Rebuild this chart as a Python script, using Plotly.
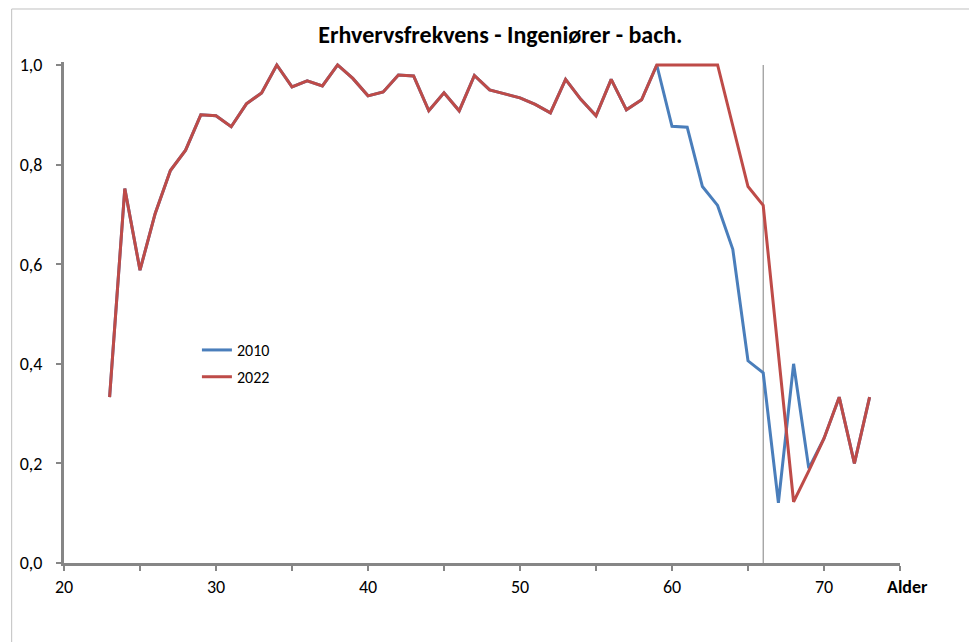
import plotly.graph_objects as go

ages = list(range(23, 74))

freq_2010 = [0.333, 0.752, 0.588, 0.702, 0.788, 0.829, 0.900, 0.898, 0.876, 0.922,
             0.944, 1.000, 0.956, 0.968, 0.958, 1.000, 0.973, 0.938, 0.946, 0.980,
             0.978, 0.908, 0.944, 0.908, 0.979, 0.950, 0.942, 0.934, 0.921, 0.904,
             0.971, 0.931, 0.898, 0.971, 0.910, 0.930, 1.000,
             0.877, 0.875, 0.756, 0.718, 0.630, 0.406, 0.382, 0.121, 0.400, 0.190,
             0.250, 0.333, 0.200, 0.333]

freq_2022 = [0.333, 0.752, 0.588, 0.702, 0.788, 0.829, 0.900, 0.898, 0.876, 0.922,
             0.944, 1.000, 0.956, 0.968, 0.958, 1.000, 0.973, 0.938, 0.946, 0.980,
             0.978, 0.908, 0.944, 0.908, 0.979, 0.950, 0.942, 0.934, 0.921, 0.904,
             0.971, 0.931, 0.898, 0.971, 0.910, 0.930, 1.000,
             1.000, 1.000, 1.000, 1.000, 0.878, 0.756, 0.718, 0.420, 0.123, 0.185,
             0.250, 0.333, 0.200, 0.333]

series_names = ["2010", "2022"]
series_colors = ["#4A7EBB", "#BE4B48"]

x_tickvals = list(range(20, 76, 5))
x_ticktext = [str(v) if v % 10 == 0 else "" for v in x_tickvals]
y_tickvals = [0, 0.2, 0.4, 0.6, 0.8, 1.0]
y_ticktext = ["0,0", "0,2", "0,4", "0,6", "0,8", "1,0"]
ref_age = 66

FONT = "Carlito, Calibri, Lato, sans-serif"
AXIS_COLOR = "#868686"

fig = go.Figure()
for name, vals, col in zip(series_names, [freq_2010, freq_2022], series_colors):
    fig.add_trace(go.Scatter(x=ages, y=vals, mode="lines", name=name,
                             legendgroup=name,
                             line=dict(color=col, width=3)))

fig.add_shape(type="line", xref="x", yref="y", x0=ref_age, x1=ref_age, y0=0, y1=1.0,
              line=dict(color="#808080", width=1), layer="below")

# chart-area border
fig.add_shape(type="rect", xref="paper", yref="paper",
              x0=-0.0626, x1=1.3, y0=-0.4, y1=1.1058,
              line=dict(color="#C0C0C0", width=1), fillcolor="rgba(0,0,0,0)")

fig.add_annotation(text="<b>Alder</b>", xref="paper", yref="paper",
                   x=0.982, y=-0.048, xanchor="left", yanchor="middle",
                   showarrow=False, font=dict(family=FONT, size=18, color="black"))

fig.update_layout(
    width=969, height=634,
    margin=dict(l=53, r=77, t=54, b=79),
    paper_bgcolor="white", plot_bgcolor="white",
    font=dict(family=FONT, size=18, color="black"),
    title=dict(text="<b>Erhvervsfrekvens - Ingeniører - bach.</b>",
               x=0.522, xref="paper", xanchor="center",
               y=1 - 27 / 634, yref="container", yanchor="middle",
               font=dict(family=FONT, size=24, color="black")),
    showlegend=True,
    legend=dict(x=0.159, y=0.459, xanchor="left", yanchor="top",
                bgcolor="rgba(0,0,0,0)", tracegroupgap=3,
                font=dict(family=FONT, size=16, color="black")),
    xaxis=dict(range=[20, 75], tickvals=x_tickvals, ticktext=x_ticktext,
               showgrid=False, zeroline=False, showline=True,
               linecolor=AXIS_COLOR, linewidth=3,
               ticks="outside", ticklen=5, tickwidth=2, tickcolor=AXIS_COLOR,
               ticklabelstandoff=0,
               tickfont=dict(family=FONT, size=18, color="black")),
    yaxis=dict(range=[0, 1.006], tickvals=y_tickvals, ticktext=y_ticktext,
               showgrid=False, zeroline=False, showline=True,
               linecolor=AXIS_COLOR, linewidth=3,
               ticks="outside", ticklen=5, tickwidth=2, tickcolor=AXIS_COLOR,
               ticklabelstandoff=10,
               tickfont=dict(family=FONT, size=18, color="black")),
)

fig.write_html("out.html")
